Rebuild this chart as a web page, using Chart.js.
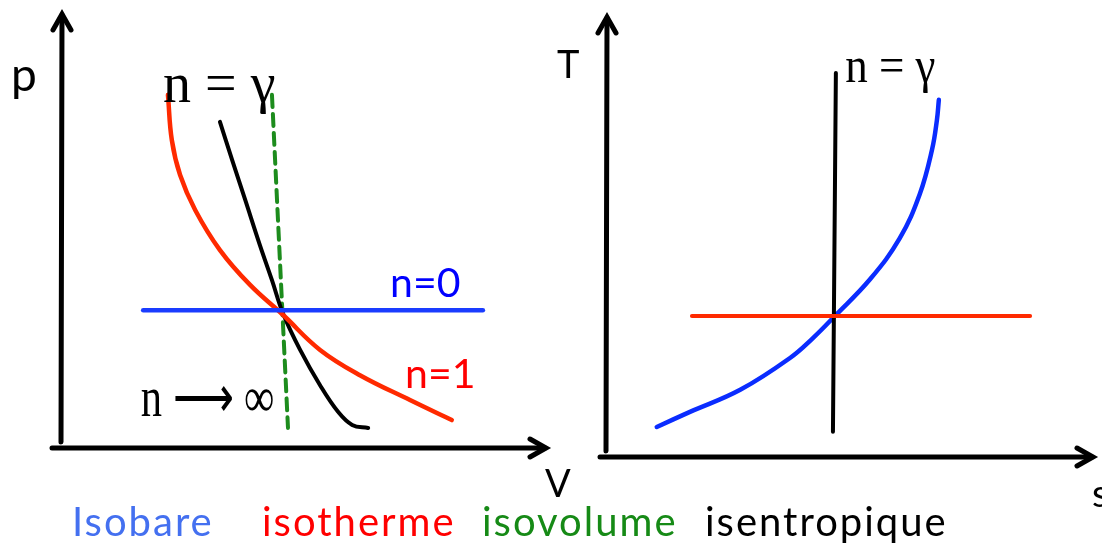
<!DOCTYPE html>
<html><head><meta charset="utf-8">
<script src="https://cdn.jsdelivr.net/npm/chart.js@4/dist/chart.umd.min.js"></script>
<style>
html,body{margin:0;padding:0;background:#fff;width:1102px;height:546px;overflow:hidden;}
canvas{position:absolute;left:0;top:0;}
#legend{position:absolute;left:72px;top:498px;font-family:Lato,"Open Sans",sans-serif;font-size:40px;letter-spacing:2px;white-space:nowrap;line-height:46px;}
#legend span{position:absolute;top:0;}
.ax{position:absolute;font-family:Lato,"Open Sans",sans-serif;font-size:38px;line-height:40px;color:#000;}
</style></head><body>
<canvas id="pv" width="1102" height="546"></canvas>
<canvas id="ts" width="1102" height="546"></canvas>
<div class="ax" style="left:11px;top:49px;font-size:46px;line-height:50px;">p</div>
<div class="ax" style="left:545px;top:462px;">V</div>
<div class="ax" style="left:557px;top:43px;">T</div>
<div class="ax" style="left:1092px;top:472px;">s</div>
<div id="legend"></div>
<script>
// ---------- data (arbitrary units 0..10) ----------
// p–V diagram
const isobarePV   = [{x:1.67,y:3.16},{x:8.66,y:3.16}];
const isothermePV = [{x:2.18,y:8.10},{x:2.26,y:7.06},{x:2.43,y:6.26},{x:2.74,y:5.46},{x:3.25,y:4.54},{x:3.87,y:3.74},{x:4.55,y:3.05},{x:5.31,y:2.25},{x:6.13,y:1.67},{x:7.16,y:1.10},{x:8.02,y:0.64}];
const isentropePV = [{x:3.25,y:7.48},{x:3.50,y:6.61},{x:3.77,y:5.69},{x:4.07,y:4.66},{x:4.32,y:3.85},{x:4.55,y:3.08},{x:4.90,y:2.25},{x:5.31,y:1.44},{x:5.68,y:0.83},{x:5.97,y:0.53},{x:6.30,y:0.46}];
const isochorePV  = [{x:4.32,y:8.10},{x:4.65,y:0.46}];
// T–s diagram
const isothermeTS = [{x:1.74,y:3.19},{x:8.67,y:3.19}];
const isentropeTS = [{x:4.69,y:8.69},{x:4.63,y:0.57}];
const isobareTS   = [{x:1.02,y:0.68},{x:1.70,y:1.02},{x:2.73,y:1.52},{x:3.75,y:2.24},{x:4.22,y:2.69},{x:4.67,y:3.19},{x:5.39,y:4.02},{x:6.00,y:4.95},{x:6.41,y:5.95},{x:6.66,y:6.95},{x:6.76,y:7.62},{x:6.80,y:8.08}];
// texts
const pvLabels = ['n = γ','n=0','n=1','n ⟶ ∞'];
const tsLabels = ['n = γ'];
const legendLabels = ['Isobare','isotherme','isovolume','isentropique'];

// ---------- styling / layout ----------
const legendColors = ['#4470f0','#ff0000','#168a16','#000000'];
const legendX = [0,190,410,633];
const lg = document.getElementById('legend');
legendLabels.forEach((t,i)=>{const s=document.createElement('span');s.textContent=t;s.style.color=legendColors[i];s.style.left=legendX[i]+'px';lg.appendChild(s);});

const arrowAxes = {
  id:'arrowAxes',
  afterDraw(chart, args, o){
    const {ctx, chartArea:{left,right,top,bottom}} = chart;
    ctx.save();
    ctx.strokeStyle='#000'; ctx.lineWidth=5; ctx.lineJoin='miter'; ctx.lineCap='round';
    ctx.beginPath(); ctx.moveTo(left-1, bottom-o.yGap); ctx.lineTo(left, top+3); ctx.stroke();
    ctx.beginPath(); ctx.moveTo(left-9, top+18); ctx.lineTo(left, top+2); ctx.lineTo(left+9, top+18); ctx.stroke();
    ctx.beginPath(); ctx.moveTo(left-o.xOver, bottom); ctx.lineTo(right-3, bottom); ctx.stroke();
    ctx.beginPath(); ctx.moveTo(right-18, bottom-9); ctx.lineTo(right-2, bottom); ctx.lineTo(right-18, bottom+9); ctx.stroke();
    const xs=chart.scales.x, ys=chart.scales.y;
    o.labels.forEach((lb,i)=>{
      const a=o.anchors[i];
      ctx.save();
      ctx.font=a.font; ctx.fillStyle=a.color; ctx.textAlign='left'; ctx.textBaseline='alphabetic';
      ctx.translate(xs.getPixelForValue(a.x), ys.getPixelForValue(a.y));
      ctx.scale(a.sx||1,1);
      ctx.fillText(lb, 0, 0);
      ctx.restore();
    });
    ctx.restore();
  }
};

function line(data,color,width,dash){
  return {data, showLine:true, borderColor:color, borderWidth:width, pointRadius:0, tension:0.4, borderDash:dash||[], fill:false, borderCapStyle:'round'};
}
function baseOpts(pad, plug){
  return {
    responsive:false, animation:false, devicePixelRatio:1,
    layout:{padding:pad},
    scales:{x:{type:'linear',min:0,max:10,display:false},y:{type:'linear',min:0,max:10,display:false}},
    plugins:{legend:{display:false},tooltip:{enabled:false},arrowAxes:plug},
    elements:{line:{capBezierPoints:true}}
  };
}

new Chart(document.getElementById('pv'),{
  type:'scatter',
  data:{datasets:[
    line(isobarePV,'#1a3cff',4.5),
    line(isothermePV,'#ff2a00',4.5),
    line(isentropePV,'#000000',4),
    line(isochorePV,'#1d8c1d',4,[12,7])
  ]},
  options:baseOpts({left:62,top:12,right:554,bottom:98},{
    yGap:6, xOver:10, labels:pvLabels,
    anchors:[
      {x:2.08,y:7.93,font:'56px "Liberation Serif"',color:'#000'},
      {x:6.75,y:3.46,font:'41px Lato',color:'#0000ff'},
      {x:7.06,y:1.38,font:'41px Lato',color:'#ff0000'},
      {x:1.62,y:0.73,font:'56px "Liberation Serif"',color:'#000',sx:0.76}
    ]
  })
,plugins:[arrowAxes]});

new Chart(document.getElementById('ts'),{
  type:'scatter',
  data:{datasets:[
    line(isothermeTS,'#ff2a00',4),
    line(isentropeTS,'#000000',4),
    line(isobareTS,'#0a2cff',4.5)
  ]},
  options:baseOpts({left:607,top:15,right:7,bottom:89},{
    yGap:6, xOver:7, labels:tsLabels,
    anchors:[
      {x:4.88,y:8.49,font:'50px "Liberation Serif"',color:'#000',sx:0.9}
    ]
  })
,plugins:[arrowAxes]});
</script>
</body></html>
